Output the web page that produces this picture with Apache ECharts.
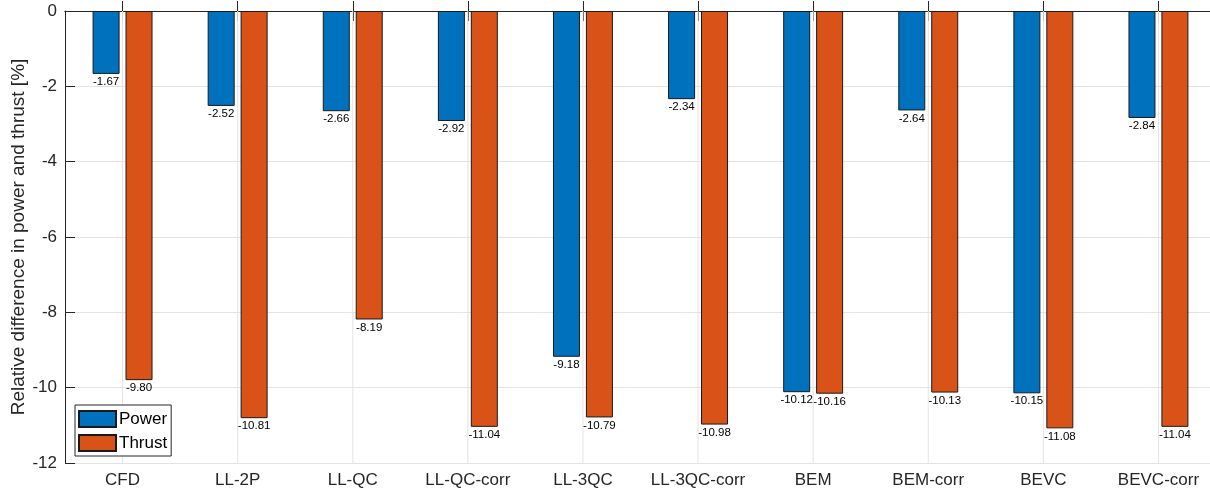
<!DOCTYPE html>
<html>
<head>
<meta charset="utf-8">
<script src="https://cdn.jsdelivr.net/npm/echarts@6/dist/echarts.min.js"></script>
<style>
  html, body { margin: 0; padding: 0; background: #fff; }
  #chart { width: 1210px; height: 496px; }
</style>
</head>
<body>
<div id="chart"></div>
<script>
// Relative difference of each model vs. reference, in percent
const categories = ['CFD', 'LL-2P', 'LL-QC', 'LL-QC-corr', 'LL-3QC', 'LL-3QC-corr', 'BEM', 'BEM-corr', 'BEVC', 'BEVC-corr'];
const powerDiff  = [-1.67, -2.52, -2.66, -2.92, -9.18, -2.34, -10.12, -2.64, -10.15, -2.84];
const thrustDiff = [-9.80, -10.81, -8.19, -11.04, -10.79, -10.98, -10.16, -10.13, -11.08, -11.04];
const yTicks = [0, -2, -4, -6, -8, -10, -12];
const Y_MIN = -12, Y_MAX = 0;

const FONT = '"Liberation Sans", Arial, Helvetica, sans-serif';
const AX = '#262626';
const GRID = '#e3e3e3';

const chart = echarts.init(document.getElementById('chart'), null, { renderer: 'canvas' });

const barLabel = {
  show: true,
  position: 'bottom',
  distance: 2,
  fontFamily: FONT,
  fontSize: 11.5,
  color: '#000',
  formatter: p => p.value.toFixed(2)
};

chart.setOption({
  animation: false,
  backgroundColor: '#fff',
  textStyle: { fontFamily: FONT },
  grid: {
    left: 65, top: 11, width: 1151, height: 452,
    containLabel: false,
    outerBoundsMode: 'none'
  },
  legend: {
    orient: 'vertical',
    left: 75,
    top: 405,
    padding: [5, 4, 4, 3],
    itemGap: 6,
    itemWidth: 37,
    itemHeight: 16,
    icon: 'rect',
    backgroundColor: '#fff',
    borderColor: AX,
    borderWidth: 1,
    borderRadius: 0,
    textStyle: { fontFamily: FONT, fontSize: 17, color: '#000', padding: [0, 0, 0, -2] },
    data: ['Power', 'Thrust']
  },
  xAxis: [
    {
      type: 'category',
      data: categories,
      position: 'bottom',
      axisLine: { show: true, lineStyle: { color: AX, width: 1 } },
      axisTick: { show: true, inside: true, alignWithLabel: true, interval: 0, length: 10, lineStyle: { color: AX } },
      axisLabel: { fontFamily: FONT, fontSize: 17, color: AX, margin: 9, interval: 0 },
      splitLine: { show: false }
    },
    {
      type: 'category',
      data: categories,
      position: 'top',
      axisLine: { show: true, lineStyle: { color: AX, width: 1 } },
      axisTick: { show: true, inside: true, alignWithLabel: true, interval: 0, length: 10, lineStyle: { color: AX } },
      axisLabel: { show: false },
      splitLine: { show: false }
    }
  ],
  yAxis: [
    {
      type: 'value',
      min: Y_MIN,
      max: Y_MAX,
      interval: 2,
      name: 'Relative difference in power and thrust [%]',
      nameLocation: 'middle',
      nameGap: 37,
      nameMoveOverlap: false,
      nameTextStyle: { fontFamily: FONT, fontSize: 19, color: AX },
      axisLine: { show: true, lineStyle: { color: AX, width: 1 } },
      axisTick: { show: true, inside: true, length: 10, lineStyle: { color: AX } },
      axisLabel: {
        fontFamily: FONT, fontSize: 17, color: AX, margin: 8,
        formatter: v => (yTicks.includes(v) ? String(v) : '')
      },
      splitLine: { show: true, lineStyle: { color: GRID, width: 1 } }
    }
  ],
  series: [
    {
      // vertical grid lines through each category centre
      name: 'grid-x',
      type: 'custom',
      xAxisIndex: 0,
      silent: true,
      z: 1,
      data: categories.map(c => [c]),
      encode: { x: 0 },
      renderItem: (params, api) => {
        const top = api.coord([api.value(0), Y_MAX]);
        const bottom = api.coord([api.value(0), Y_MIN]);
        return {
          type: 'line',
          shape: { x1: top[0], y1: top[1], x2: bottom[0], y2: bottom[1] },
          style: { stroke: GRID, lineWidth: 1 }
        };
      }
    },
    {
      name: 'Power',
      type: 'bar',
      xAxisIndex: 0,
      data: powerDiff,
      barWidth: 27,
      barGap: '22%',
      itemStyle: { color: '#0072BD', borderColor: '#1a1a1a', borderWidth: 1 },
      label: barLabel,
      z: 2
    },
    {
      name: 'Thrust',
      type: 'bar',
      xAxisIndex: 0,
      data: thrustDiff,
      barWidth: 27,
      barGap: '22%',
      itemStyle: { color: '#D95319', borderColor: '#1a1a1a', borderWidth: 1 },
      label: barLabel,
      z: 2
    }
  ]
});
</script>
</body>
</html>
